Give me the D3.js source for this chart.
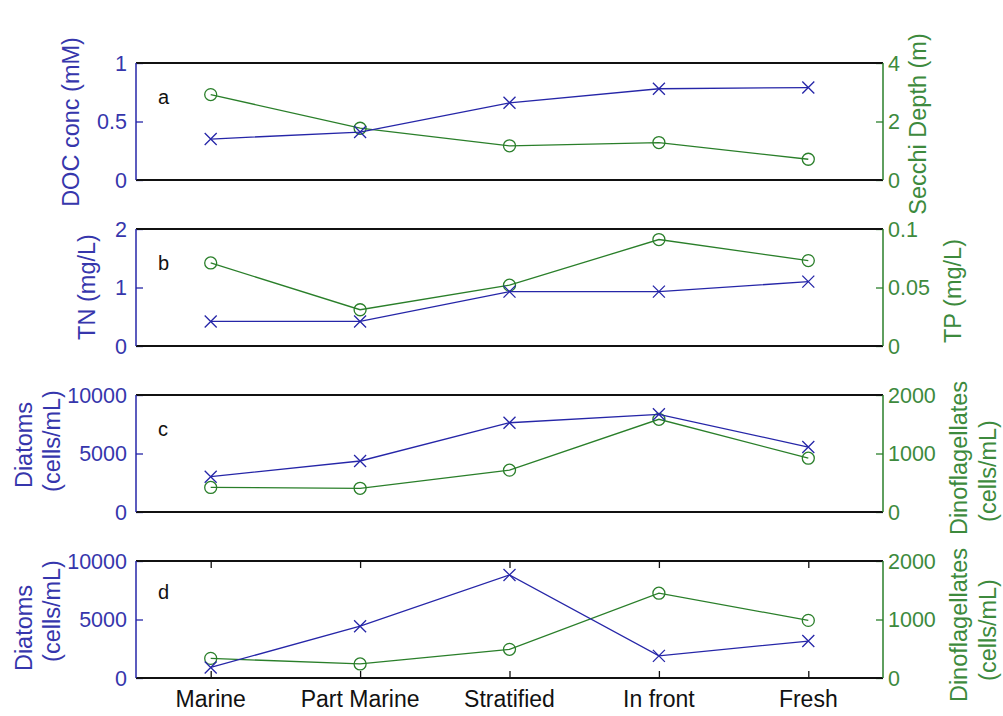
<!DOCTYPE html>
<html>
<head>
<meta charset="utf-8">
<script src="https://cdn.jsdelivr.net/npm/d3@7"></script>
<style>
  html, body { margin: 0; padding: 0; background: #ffffff; }
  svg { display: block; }
  text { font-family: "Liberation Sans", Arial, Helvetica, sans-serif; }
</style>
</head>
<body>
<svg id="chart" width="1003" height="716"></svg>
<script>
// Sites along the estuary gradient
const categories = ["Marine", "Part Marine", "Stratified", "In front", "Fresh"];

// Panel a
const docConc = [0.35, 0.41, 0.66, 0.78, 0.79];        // mM
const secchiDepth = [2.92, 1.77, 1.17, 1.28, 0.71];    // m
// Panel b
const totalN = [0.42, 0.42, 0.93, 0.93, 1.10];         // mg/L
const totalP = [0.071, 0.031, 0.052, 0.091, 0.073];    // mg/L
// Panel c
const diatomsC = [3020, 4360, 7630, 8350, 5550];       // cells/mL
const dinoC = [420, 405, 715, 1585, 920];              // cells/mL
// Panel d
const diatomsD = [900, 4430, 8810, 1890, 3160];        // cells/mL
const dinoD = [335, 240, 490, 1450, 985];              // cells/mL

// Tick values
const ticksA = [0, 0.5, 1], ticksA2 = [0, 2, 4];
const ticksB = [0, 1, 2], ticksB2 = [0, 0.05, 0.1];
const ticksCell = [0, 5000, 10000], ticksCell2 = [0, 1000, 2000];

const BLUE = "#2626a8", GREEN = "#2a7f2a";
const BLUE_TXT = "#3636ac", GREEN_TXT = "#3d8a3d";
const TICK_FS = 21.5, TITLE_FS = 23.5;

const svg = d3.select("#chart");
svg.append("rect").attr("width", 1003).attr("height", 716).attr("fill", "#fff");

const x = d3.scaleLinear().domain([0.5, 5.5]).range([136, 883]);
const idx = d => categories.indexOf(d) + 1;

const panels = [
  { top: 63, letter: "a", left: docConc, right: secchiDepth, lDom: [0, 1], rDom: [0, 4],
    lTicks: ticksA, rTicks: ticksA2,
    lLabel: [{ t: "DOC conc (mM)", x: 71, y: 122 }],
    rLabel: [{ t: "Secchi Depth (m)", x: 918, y: 124 }] },
  { top: 229, letter: "b", left: totalN, right: totalP, lDom: [0, 2], rDom: [0, 0.1],
    lTicks: ticksB, rTicks: ticksB2,
    lLabel: [{ t: "TN (mg/L)", x: 87, y: 287 }],
    rLabel: [{ t: "TP (mg/L)", x: 953, y: 291 }] },
  { top: 395, letter: "c", left: diatomsC, right: dinoC, lDom: [0, 10000], rDom: [0, 2000],
    lTicks: ticksCell, rTicks: ticksCell2,
    lLabel: [{ t: "Diatoms", x: 24, y: 445 }, { t: "(cells/mL)", x: 52, y: 441 }],
    rLabel: [{ t: "Dinoflagellates", x: 959, y: 458 }, { t: "(cells/mL)", x: 988, y: 471 }] },
  { top: 561, letter: "d", left: diatomsD, right: dinoD, lDom: [0, 10000], rDom: [0, 2000],
    lTicks: ticksCell, rTicks: ticksCell2, xTicks: true,
    lLabel: [{ t: "Diatoms", x: 24, y: 628 }, { t: "(cells/mL)", x: 52, y: 611 }],
    rLabel: [{ t: "Dinoflagellates", x: 959, y: 625 }, { t: "(cells/mL)", x: 988, y: 630 }] }
];
const H = 117;
const x0 = x.range()[0], x1 = x.range()[1];

panels.forEach(p => {
  const yL = d3.scaleLinear().domain(p.lDom).range([p.top + H, p.top]);
  const yR = d3.scaleLinear().domain(p.rDom).range([p.top + H, p.top]);
  const g = svg.append("g");

  // Left axis (blue), ticks pointing inward
  const axL = d3.axisRight(yL).tickValues(p.lTicks).tickSize(7).tickFormat("");
  const gL = g.append("g").attr("transform", `translate(${x0},0)`).call(axL);
  gL.select(".domain").remove();
  gL.selectAll(".tick line").attr("stroke", BLUE).attr("stroke-width", 1.3);
  g.selectAll(null).data(p.lTicks).enter().append("text")
    .attr("x", 127).attr("y", d => yL(d)).attr("dy", "0.36em")
    .attr("text-anchor", "end").attr("font-size", TICK_FS).attr("fill", BLUE_TXT)
    .text(d => d3.format("~g")(d));

  // Right axis (green), ticks pointing inward
  const axR = d3.axisLeft(yR).tickValues(p.rTicks).tickSize(7).tickFormat("");
  const gR = g.append("g").attr("transform", `translate(${x1},0)`).call(axR);
  gR.select(".domain").remove();
  gR.selectAll(".tick line").attr("stroke", GREEN).attr("stroke-width", 1.3);
  g.selectAll(null).data(p.rTicks).enter().append("text")
    .attr("x", 888).attr("y", d => yR(d)).attr("dy", "0.36em")
    .attr("text-anchor", "start").attr("font-size", TICK_FS).attr("fill", GREEN_TXT)
    .text(d => d3.format("~g")(d));

  // Category ticks on bottom panel (top and bottom edges, inward)
  if (p.xTicks) {
    const axB = d3.axisTop(x).tickValues(categories.map(idx)).tickSize(7).tickFormat("");
    const gB = g.append("g").attr("transform", `translate(0,${p.top + H})`).call(axB);
    gB.select(".domain").remove();
    gB.selectAll(".tick line").attr("stroke", "#111").attr("stroke-width", 1.3);
    const axT = d3.axisBottom(x).tickValues(categories.map(idx)).tickSize(7).tickFormat("");
    const gT = g.append("g").attr("transform", `translate(0,${p.top})`).call(axT);
    gT.select(".domain").remove();
    gT.selectAll(".tick line").attr("stroke", "#111").attr("stroke-width", 1.3);
    g.selectAll(null).data(categories).enter().append("text")
      .attr("x", d => x(idx(d))).attr("y", p.top + H + 29)
      .attr("text-anchor", "middle").attr("font-size", TITLE_FS - 0.5).attr("fill", "#111")
      .text(d => d);
  }

  // Frame: black top/bottom, blue left, green right
  g.append("line").attr("x1", x0).attr("x2", x1).attr("y1", p.top).attr("y2", p.top)
    .attr("stroke", "#111").attr("stroke-width", 1.8);
  g.append("line").attr("x1", x0).attr("x2", x1).attr("y1", p.top + H).attr("y2", p.top + H)
    .attr("stroke", "#111").attr("stroke-width", 1.8);
  g.append("line").attr("x1", x0).attr("x2", x0).attr("y1", p.top).attr("y2", p.top + H)
    .attr("stroke", BLUE).attr("stroke-width", 1.5);
  g.append("line").attr("x1", x1).attr("x2", x1).attr("y1", p.top).attr("y2", p.top + H)
    .attr("stroke", GREEN).attr("stroke-width", 1.5);

  // Panel letter
  g.append("text").attr("x", 158).attr("y", p.top + 34 + (p.letter === "d" ? -3 : 0))
    .attr("dy", "0.36em").attr("font-size", 20).attr("fill", "#111").text(p.letter);

  // Right series (green, circles)
  const lineR = d3.line().x((d, i) => x(i + 1)).y(d => yR(d));
  g.append("path").datum(p.right).attr("d", lineR)
    .attr("fill", "none").attr("stroke", GREEN).attr("stroke-width", 1.3);
  g.selectAll(null).data(p.right).enter().append("circle")
    .attr("cx", (d, i) => x(i + 1)).attr("cy", d => yR(d)).attr("r", 6)
    .attr("fill", "none").attr("stroke", GREEN).attr("stroke-width", 1.3);

  // Left series (blue, crosses)
  const lineL = d3.line().x((d, i) => x(i + 1)).y(d => yL(d));
  g.append("path").datum(p.left).attr("d", lineL)
    .attr("fill", "none").attr("stroke", BLUE).attr("stroke-width", 1.3);
  const s = 6;
  g.selectAll(null).data(p.left).enter().append("path")
    .attr("d", (d, i) => {
      const cx = x(i + 1), cy = yL(d);
      return `M${cx - s},${cy - s}L${cx + s},${cy + s}M${cx - s},${cy + s}L${cx + s},${cy - s}`;
    })
    .attr("fill", "none").attr("stroke", BLUE).attr("stroke-width", 1.3);

  // Axis titles
  p.lLabel.forEach(l => {
    g.append("text").attr("transform", `translate(${l.x},${l.y}) rotate(-90)`)
      .attr("text-anchor", "middle").attr("dy", "0.36em").attr("font-size", TITLE_FS)
      .attr("fill", BLUE_TXT).text(l.t);
  });
  p.rLabel.forEach(l => {
    g.append("text").attr("transform", `translate(${l.x},${l.y}) rotate(-90)`)
      .attr("text-anchor", "middle").attr("dy", "0.36em").attr("font-size", TITLE_FS)
      .attr("fill", GREEN_TXT).text(l.t);
  });
});
</script>
</body>
</html>
